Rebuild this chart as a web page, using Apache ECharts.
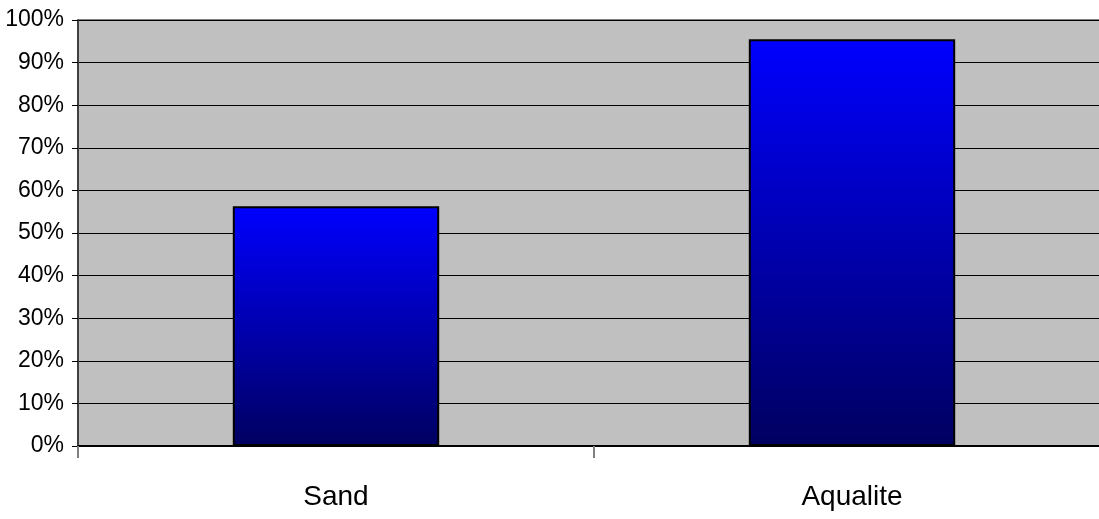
<!DOCTYPE html>
<html><head><meta charset="utf-8">
<script src="https://cdn.jsdelivr.net/npm/echarts@6/dist/echarts.min.js"></script>
<style>html,body{margin:0;padding:0;background:#fff}#c{width:1099px;height:519px}</style>
</head><body><div id="c"></div>
<script>
const categories = ['Sand', 'Aqualite'];
const values = [56.3, 95.5];
const yTicks = [0, 10, 20, 30, 40, 50, 60, 70, 80, 90, 100];

const chart = echarts.init(document.getElementById('c'));
chart.setOption({
  animation: false,
  grid: { left: 78, width: 1032, top: 20, height: 426, outerBoundsMode: 'none', containLabel: false,
    show: true, backgroundColor: '#c0c0c0', borderWidth: 0 },
  xAxis: {
    type: 'category', data: categories,
    axisLine: { lineStyle: { color: '#000', width: 2 } },
    axisTick: { show: true, length: 12, lineStyle: { color: '#808080', width: 2 } },
    axisLabel: { fontFamily: 'Liberation Sans, Arial', fontSize: 28, color: '#000', margin: 37 }
  },
  yAxis: {
    type: 'value', min: 0, max: 100, interval: 10,
    axisLine: { show: true, lineStyle: { color: '#404040', width: 2 } },
    axisTick: { show: true, length: 6, lineStyle: { color: '#000', width: 1 } },
    axisLabel: { fontFamily: 'Liberation Sans, Arial', fontSize: 23, color: '#000', margin: 14,
      formatter: v => yTicks.includes(v) ? v + '%' : '' },
    splitLine: { show: true, lineStyle: { color: '#000', width: 1 } }
  },
  series: [{
    type: 'bar', data: values, barWidth: '40%',
    itemStyle: {
      borderColor: '#000', borderWidth: 2,
      color: new echarts.graphic.LinearGradient(0, 0, 0, 1, [
        { offset: 0, color: '#0000ff' },
        { offset: 1, color: '#000060' }
      ], false)
    }
  }],
  graphic: [{ type: 'line', shape: { x1: 78, y1: 20, x2: 1099, y2: 20 }, style: { stroke: '#808080', lineWidth: 2 } }]
});
</script></body></html>
